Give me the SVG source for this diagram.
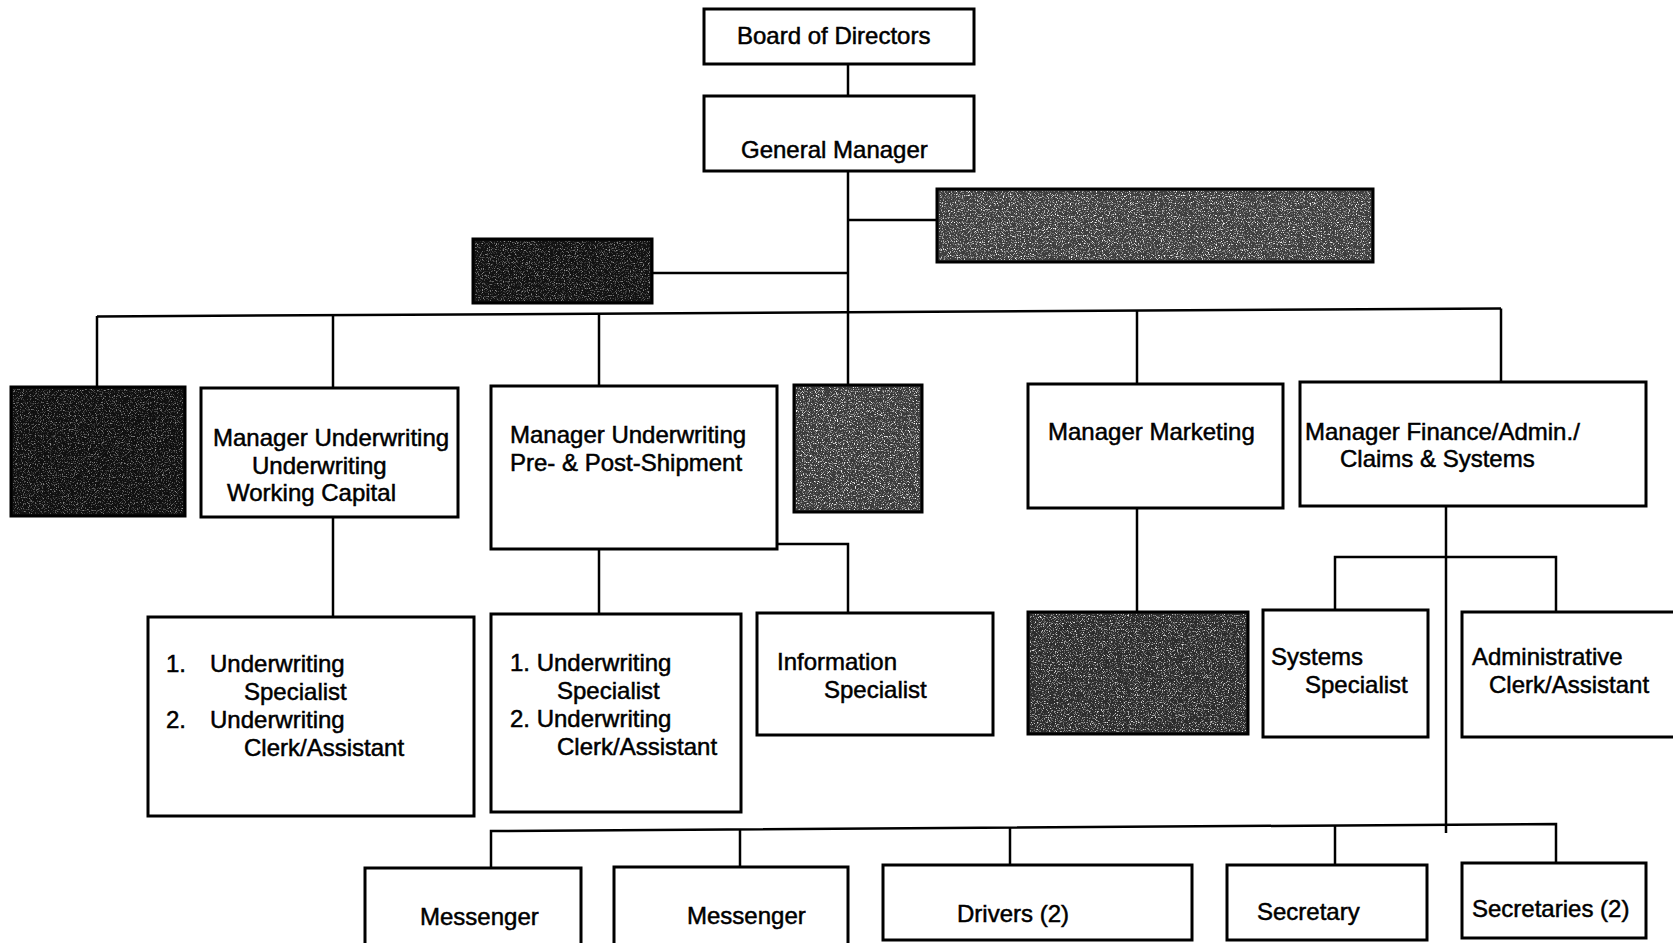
<svg xmlns="http://www.w3.org/2000/svg" width="1673" height="943" viewBox="0 0 1673 943">
  <style>
    .box { fill: #ffffff; stroke: #000000; stroke-width: 3; }
    .shade { stroke: #000000; stroke-width: 3; }
    .grain { fill: #ffffff; filter: url(#speckle); }
    .conn path { fill: none; stroke: #000000; stroke-width: 2.5; }
    text { font-family: "Liberation Sans", Arial, Helvetica, sans-serif; font-size: 24px; fill: #000000; stroke: #000000; stroke-width: 0.5; }
  </style>
  <defs>
    <!-- fine white speckle laid over the shaded (blank) boxes -->
    <filter id="speckle" x="0" y="0" width="100%" height="100%">
      <feTurbulence type="fractalNoise" baseFrequency="0.85" numOctaves="2" seed="7" result="n"/>
      <feColorMatrix in="n" type="matrix" values="0 0 0 0 1  0 0 0 0 1  0 0 0 0 1  4 0 0 0 -2.1"/>
      <feComposite in2="SourceGraphic" operator="in"/>
    </filter>
  </defs>

  <rect width="1673" height="943" fill="#ffffff"/>

  <!-- connectors -->
  <g id="connectors" class="conn">
    <path d="M848 64 V96"/>
    <path d="M848 171 V312"/>
    <path d="M848 220 H937"/>
    <path d="M652 273 H848"/>
    <!-- main bus -->
    <path d="M97 316.5 L1501 308.5"/>
    <path d="M97 316 V387"/>
    <path d="M333 315 V388"/>
    <path d="M599 313 V386"/>
    <path d="M848 312 V385"/>
    <path d="M1137 310 V384"/>
    <path d="M1501 308.5 V382"/>
    <!-- second level -->
    <path d="M333 517 V617"/>
    <path d="M599 549 V614"/>
    <path d="M777 544 H848 V613"/>
    <path d="M1137 508 V612"/>
    <path d="M1446 506 V833"/>
    <path d="M1335 610 V557 H1556 V612"/>
    <!-- lower bus -->
    <path d="M491 868 V831 L1556 824 V863"/>
    <path d="M740 867 V829.3"/>
    <path d="M1010 865 V827.5"/>
    <path d="M1335 865 V825.4"/>
  </g>

  <g id="board">
    <rect class="box" x="704" y="9" width="270" height="55"/>
    <text x="737" y="44">Board of Directors</text>
  </g>

  <g id="general-manager">
    <rect class="box" x="704" y="96" width="270" height="75"/>
    <text x="741" y="158">General Manager</text>
  </g>

  <g id="staff-right">
    <rect class="shade" x="937" y="189" width="436" height="73" fill="#3e3e3e"/>
    <rect class="grain" x="939" y="191" width="432" height="69"/>
  </g>

  <g id="staff-left">
    <rect class="shade" x="473" y="239" width="179" height="64" fill="#121212"/>
    <rect class="grain" x="475" y="241" width="175" height="60" opacity="0.55"/>
  </g>

  <g id="dept-1">
    <rect class="shade" x="11" y="387" width="174" height="129" fill="#101010"/>
    <rect class="grain" x="13" y="389" width="170" height="125" opacity="0.5"/>
  </g>

  <g id="uw-working-capital">
    <rect class="box" x="201" y="388" width="257" height="129"/>
    <text x="213" y="446">Manager Underwriting</text>
    <text x="252" y="474">Underwriting</text>
    <text x="227" y="501">Working Capital</text>
  </g>

  <g id="uw-shipment">
    <rect class="box" x="491" y="386" width="286" height="163"/>
    <text x="510" y="443">Manager Underwriting</text>
    <text x="510" y="471">Pre- &amp; Post-Shipment</text>
  </g>

  <g id="dept-4">
    <rect class="shade" x="794" y="385" width="128" height="127" fill="#3a3a3a"/>
    <rect class="grain" x="796" y="387" width="124" height="123"/>
  </g>

  <g id="marketing">
    <rect class="box" x="1028" y="384" width="255" height="124"/>
    <text x="1048" y="440">Manager Marketing</text>
  </g>

  <g id="finance">
    <rect class="box" x="1300" y="382" width="346" height="124"/>
    <text x="1305" y="440">Manager Finance/Admin./</text>
    <text x="1340" y="467">Claims &amp; Systems</text>
  </g>

  <g id="uw-staff-1">
    <rect class="box" x="148" y="617" width="326" height="199"/>
    <text x="166" y="672">1.</text>
    <text x="210" y="672">Underwriting</text>
    <text x="244" y="700">Specialist</text>
    <text x="166" y="728">2.</text>
    <text x="210" y="728">Underwriting</text>
    <text x="244" y="756">Clerk/Assistant</text>
  </g>

  <g id="uw-staff-2">
    <rect class="box" x="491" y="614" width="250" height="198"/>
    <text x="510" y="671">1. Underwriting</text>
    <text x="557" y="699">Specialist</text>
    <text x="510" y="727">2. Underwriting</text>
    <text x="557" y="755">Clerk/Assistant</text>
  </g>

  <g id="information">
    <rect class="box" x="757" y="613" width="236" height="122"/>
    <text x="777" y="670">Information</text>
    <text x="824" y="698">Specialist</text>
  </g>

  <g id="marketing-staff">
    <rect class="shade" x="1028" y="612" width="220" height="122" fill="#2c2c2c"/>
    <rect class="grain" x="1030" y="614" width="216" height="118" opacity="0.85"/>
  </g>

  <g id="systems">
    <rect class="box" x="1263" y="610" width="165" height="127"/>
    <text x="1271" y="665">Systems</text>
    <text x="1305" y="693">Specialist</text>
  </g>

  <g id="admin-clerk">
    <rect class="box" x="1462" y="612" width="220" height="125"/>
    <text x="1472" y="665">Administrative</text>
    <text x="1489" y="693">Clerk/Assistant</text>
  </g>

  <g id="messenger-1">
    <rect class="box" x="365" y="868" width="216" height="90"/>
    <text x="420" y="925">Messenger</text>
  </g>

  <g id="messenger-2">
    <rect class="box" x="614" y="867" width="234" height="90"/>
    <text x="687" y="924">Messenger</text>
  </g>

  <g id="drivers">
    <rect class="box" x="883" y="865" width="309" height="75"/>
    <text x="957" y="922">Drivers (2)</text>
  </g>

  <g id="secretary">
    <rect class="box" x="1227" y="865" width="200" height="75"/>
    <text x="1257" y="920">Secretary</text>
  </g>

  <g id="secretaries">
    <rect class="box" x="1462" y="863" width="184" height="75"/>
    <text x="1472" y="917">Secretaries (2)</text>
  </g>
</svg>
